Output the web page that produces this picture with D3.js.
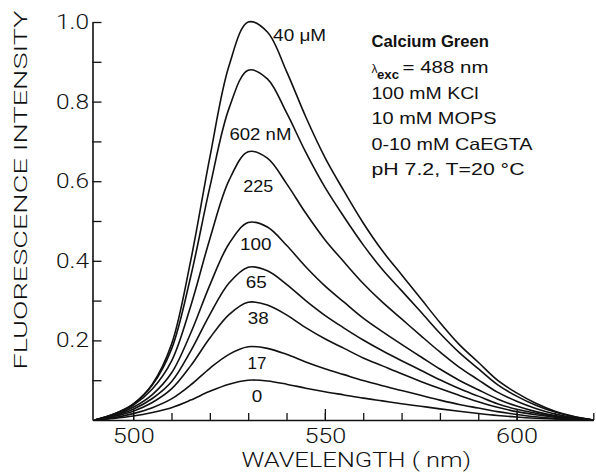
<!DOCTYPE html>
<html>
<head>
<meta charset="utf-8">
<script src="https://cdn.jsdelivr.net/npm/d3@7"></script>
<style>
  html, body { margin: 0; padding: 0; background: #fff; }
  svg { display: block; font-family: "Liberation Sans", Arial, Helvetica, sans-serif; }
  .thin { font-family: Roboto, "Liberation Sans", Arial, sans-serif; font-weight: 300; }
</style>
</head>
<body>
<svg id="chart" width="596" height="474"></svg>
<script>
// ---------------- data ----------------
const wavelengths = [490,495,500,505,510,515,520,525,530,535,540,545,550,555,560,565,570,575,580,585,590,595,600,605,610,615,620];

const seriesNames = ["40 \u03BCM", "602 nM", "225", "100", "65", "38", "17", "0"];

const s40uM  = [0,.015,.040,.090,.190,.400,.660,.890,1.000,.975,.876,.762,.660,.575,.495,.425,.365,.305,.245,.190,.145,.100,.068,.042,.022,.009,0];
const s602nM = [0,.015,.040,.088,.178,.360,.585,.783,.879,.857,.772,.673,.585,.510,.440,.378,.325,.272,.218,.170,.129,.089,.060,.037,.020,.008,0];
const s225   = [0,.014,.037,.078,.148,.286,.455,.602,.674,.658,.594,.520,.453,.397,.343,.296,.254,.212,.171,.133,.101,.070,.047,.029,.015,.006,0];
const s100   = [0,.012,.032,.064,.118,.218,.339,.443,.496,.485,.439,.385,.337,.296,.256,.222,.190,.159,.128,.100,.076,.053,.035,.021,.011,.005,0];
const s65    = [0,.011,.027,.054,.096,.173,.265,.344,.384,.375,.341,.300,.263,.231,.201,.174,.149,.125,.101,.079,.060,.041,.027,.017,.009,.004,0];
const s38    = [0,.009,.022,.044,.078,.136,.206,.265,.296,.289,.264,.232,.204,.180,.156,.136,.116,.097,.079,.062,.046,.032,.021,.013,.007,.003,0];
const s17    = [0,.006,.016,.031,.053,.088,.130,.165,.184,.180,.165,.146,.129,.114,.099,.086,.074,.062,.050,.039,.030,.021,.014,.008,.004,.002,0];
const s0     = [0,.004,.010,.019,.031,.050,.072,.090,.100,.098,.090,.080,.071,.063,.055,.048,.041,.0345,.028,.022,.0165,.0115,.0075,.0045,.0024,.001,0];

const seriesValues = [s40uM, s602nM, s225, s100, s65, s38, s17, s0];

const yTickValues = [0.2, 0.4, 0.6, 0.8, 1.0];
const yMinorTicks = [0.1, 0.2, 0.3, 0.4, 0.5, 0.6, 0.7, 0.8, 0.9, 1.0];
const xTickValues = [500, 550, 600];
const xMinorTicks = [500, 510, 520, 530, 540, 550, 560, 570, 580, 590, 600, 610, 620];

const infoLines = ["100 mM KCl", "10 mM MOPS", "0-10 mM CaEGTA", "pH 7.2,  T=20 \u00B0C"];

// ---------------- layout (positions / sizes) ----------------
const xDomain = [489.4, 620];
const yDomain = [0, 1];
const plot = { left: 92.5, right: 593.3, top: 22, bottom: 420 };

// label anchors in data units [nm, intensity], anchor, text width
const labelLayout = [
  { at: [536.5, 0.953], anchor: "start",  w: 53 },
  { at: [525.1, 0.7035], anchor: "start", w: 62 },
  { at: [532.6, 0.573], anchor: "middle", w: 30 },
  { at: [532.0, 0.427], anchor: "middle", w: 31.5 },
  { at: [532.1, 0.331], anchor: "middle", w: 21 },
  { at: [532.6, 0.241], anchor: "middle", w: 21 },
  { at: [532.3, 0.127], anchor: "middle", w: 19 },
  { at: [532.3, 0.046], anchor: "middle", w: 10.5 }
];

// ---------------- drawing ----------------
const svg = d3.select("#chart");
const x = d3.scaleLinear().domain(xDomain).range([plot.left, plot.right]);
const y = d3.scaleLinear().domain(yDomain).range([plot.bottom, plot.top]);

const ink = "#111";

// y axis: minor ticks (inward)
svg.append("g").attr("transform", `translate(${plot.left},0)`)
  .call(d3.axisLeft(y).tickValues(yMinorTicks).tickSizeInner(-9).tickSizeOuter(0).tickFormat(""));
// y axis: labels
const gy = svg.append("g").attr("transform", `translate(${plot.left},0)`)
  .call(d3.axisLeft(y).tickValues(yTickValues).tickSizeInner(0).tickSizeOuter(0).tickPadding(3.5)
    .tickFormat(d3.format(".1f")));
gy.select(".domain").remove();
gy.selectAll("text")
  .attr("class", "thin")
  .attr("font-size", 20).attr("fill", ink).attr("font-family", null)
  .attr("textLength", 33).attr("lengthAdjust", "spacingAndGlyphs");

// x axis: minor ticks
svg.append("g").attr("transform", `translate(0,${plot.bottom})`)
  .call(d3.axisBottom(x).tickValues(xMinorTicks).tickSizeInner(-7).tickSizeOuter(0).tickFormat(""));
const gx = svg.append("g").attr("transform", `translate(0,${plot.bottom})`)
  .call(d3.axisBottom(x).tickValues(xTickValues).tickSizeInner(-11).tickSizeOuter(0).tickPadding(0));
gx.select(".domain").remove();
gx.selectAll("text")
  .attr("class", "thin")
  .attr("y", 23).attr("dy", null)
  .attr("font-size", 21).attr("fill", ink).attr("font-family", null)
  .attr("textLength", 42).attr("lengthAdjust", "spacingAndGlyphs");

svg.selectAll(".domain").attr("stroke", ink).attr("stroke-width", 1.6);
svg.selectAll(".tick line").attr("stroke", ink).attr("stroke-width", 1.3);

// curves
const line = d3.line()
  .x((d, i) => x(wavelengths[i]))
  .y(d => y(d))
  .curve(d3.curveCatmullRom.alpha(0.5));

svg.append("g").selectAll("path")
  .data(seriesValues)
  .join("path")
  .attr("d", d => line(d))
  .attr("fill", "none")
  .attr("stroke", ink)
  .attr("stroke-width", 1.6);

// curve labels
svg.append("g").selectAll("text")
  .data(seriesNames)
  .join("text")
  .attr("x", (d, i) => x(labelLayout[i].at[0]))
  .attr("y", (d, i) => y(labelLayout[i].at[1]))
  .attr("text-anchor", (d, i) => labelLayout[i].anchor)
  .attr("font-size", 16.5)
  .attr("fill", ink)
  .attr("textLength", (d, i) => labelLayout[i].w)
  .attr("lengthAdjust", "spacingAndGlyphs")
  .text(d => d);

// axis titles
svg.append("text")
  .attr("class", "thin")
  .attr("x", 241.5).attr("y", 467)
  .attr("font-size", 20).attr("fill", ink)
  .attr("textLength", 229.5).attr("lengthAdjust", "spacingAndGlyphs")
  .text("WAVELENGTH  ( nm)");

svg.append("text")
  .attr("class", "thin")
  .attr("transform", "translate(27,190) rotate(-90)")
  .attr("text-anchor", "middle")
  .attr("font-size", 19).attr("fill", ink)
  .attr("textLength", 359).attr("lengthAdjust", "spacingAndGlyphs")
  .text("FLUORESCENCE  INTENSITY");

// info block
const info = svg.append("g");
info.append("text").attr("x", 371.5).attr("y", 47)
  .attr("font-size", 16.5).attr("font-weight", "bold").attr("fill", ink)
  .attr("textLength", 117.5).attr("lengthAdjust", "spacingAndGlyphs")
  .text("Calcium Green");
info.append("text").attr("x", 371.5).attr("y", 73)
  .attr("font-size", 12).attr("fill", ink).text("\u03BB");
info.append("text").attr("x", 377).attr("y", 79)
  .attr("font-size", 12.5).attr("font-weight", "bold").attr("fill", ink)
  .attr("textLength", 22).attr("lengthAdjust", "spacingAndGlyphs").text("exc");
info.append("text").attr("x", 402.5).attr("y", 73)
  .attr("font-size", 16.5).attr("fill", ink)
  .attr("textLength", 86).attr("lengthAdjust", "spacingAndGlyphs").text("= 488 nm");

const infoBaselines = [98.5, 124, 149.5, 175];
const infoWidths = [107, 125, 161, 153];
info.selectAll("text.line")
  .data(infoLines)
  .join("text")
  .attr("class", "line")
  .attr("x", 371.5)
  .attr("y", (d, i) => infoBaselines[i])
  .attr("font-size", 16.5)
  .attr("fill", ink)
  .attr("textLength", (d, i) => infoWidths[i])
  .attr("lengthAdjust", "spacingAndGlyphs")
  .text(d => d);
</script>
</body>
</html>
